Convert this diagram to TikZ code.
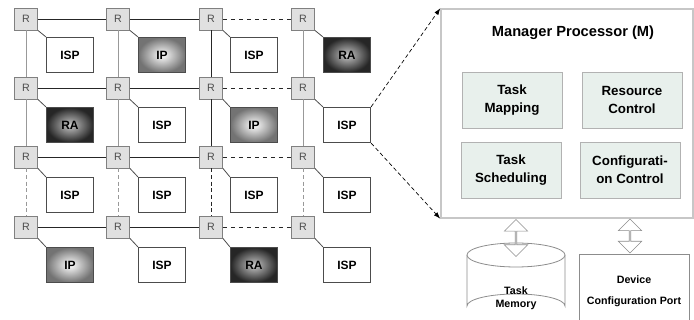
\documentclass[tikz,border=0pt]{standalone}
\usepackage{fontspec}
\setmainfont{Liberation Sans}
\usetikzlibrary{arrows.meta,shapes.arrows,positioning}
\definecolor{tilefill}{RGB}{232,240,236}

\tikzset{
  router/.style={draw=black!50,fill=black!12,line width=0.6pt,minimum width=17.25pt,minimum height=16.5pt,inner sep=0pt,text=black!70,font=\fontsize{8}{9}\selectfont},
  tile/.style={draw=black!70,line width=0.9pt,minimum width=35.25pt,minimum height=26.25pt,inner sep=0pt,font=\bfseries\fontsize{9}{10}\selectfont},
  isp/.style={tile,fill=white},
  ip/.style={tile,inner color=white,outer color=black!55},
  ra/.style={tile,inner color=black!22,outer color=black!85},
  link/.style={line width=0.6pt,black!85},
  vlink/.style={line width=0.6pt,black!40},
  tap/.style={line width=0.6pt,black!70},
  mgrbox/.style={draw=black!22,line width=1.1pt,fill=white,minimum width=189pt,minimum height=156.75pt,inner sep=0pt},
  taskbox/.style={draw=black!30,line width=0.6pt,fill=tilefill,minimum width=75pt,minimum height=42pt,align=center,font=\bfseries\fontsize{10}{13.5}\selectfont},
  probe/.style={densely dashed,line width=0.5pt,-{Latex[length=5pt,width=3.5pt]}},
  dataarrow/.style={double arrow,rotate=90,draw=black!45,fill=white,line width=0.5pt,minimum width=17.5pt,double arrow head extend=3.5pt,inner sep=0pt},
  store/.style={draw=black!45,line width=0.6pt,fill=white},
  cfgport/.style={draw=black!45,line width=0.6pt,fill=white,minimum width=82.5pt,minimum height=55.5pt,align=center,font=\bfseries\fontsize{8}{15.5}\selectfont}
}

\begin{document}
\begin{tikzpicture}[x=0.75pt,y=0.75pt,yscale=-1,xscale=1]
		\useasboundingbox (0,0) rectangle (694,320);
		
		% Routers
		\node[router] (r11) at (26,19) {R};
		\node[router] (r12) at (118,19) {R};
		\node[router] (r13) at (211,19) {R};
		\node[router] (r14) at (303,19) {R};
		\node[router] (r21) at (26,88) {R};
		\node[router] (r22) at (118,88) {R};
		\node[router] (r23) at (211,88) {R};
		\node[router] (r24) at (303,88) {R};
		\node[router] (r31) at (26,157) {R};
		\node[router] (r32) at (118,157) {R};
		\node[router] (r33) at (211,157) {R};
		\node[router] (r34) at (303,157) {R};
		\node[router] (r41) at (26,227) {R};
		\node[router] (r42) at (118,227) {R};
		\node[router] (r43) at (211,227) {R};
		\node[router] (r44) at (303,227) {R};
		
		% Tiles
		\node[isp] (b11) at (70,55) {ISP};
		\node[ip]  (b12) at (162,55) {IP};
		\node[isp] (b13) at (254,55) {ISP};
		\node[ra]  (b14) at (347,55) {RA};
		\node[ra]  (b21) at (70,125) {RA};
		\node[isp] (b22) at (162,125) {ISP};
		\node[ip]  (b23) at (254,125) {IP};
		\node[isp] (b24) at (347,125) {ISP};
		\node[isp] (b31) at (70,195) {ISP};
		\node[isp] (b32) at (162,195) {ISP};
		\node[isp] (b33) at (254,195) {ISP};
		\node[isp] (b34) at (347,195) {ISP};
		\node[ip]  (b41) at (70,265) {IP};
		\node[isp] (b42) at (162,265) {ISP};
		\node[ra]  (b43) at (254,265) {RA};
		\node[isp] (b44) at (347,265) {ISP};
		
		% Row links
		\draw[link] (r11) -- (r12) (r12) -- (r13);
		\draw[link,dashed] (r13) -- (r14);
		\draw[link] (r21) -- (r22) (r22) -- (r23);
		\draw[link,dashed] (r23) -- (r24);
		\draw[link] (r31) -- (r32) (r32) -- (r33);
		\draw[link,dashed] (r33) -- (r34);
		\draw[link] (r41) -- (r42) (r42) -- (r43);
		\draw[link,dashed] (r43) -- (r44);
		
		% Column links
		\draw[vlink] (r11) -- (r21) (r21) -- (r31);
		\draw[vlink,densely dashed] (r31) -- (r41);
		\draw[vlink] (r12) -- (r22) (r22) -- (r32);
		\draw[vlink,densely dashed] (r32) -- (r42);
		\draw[link] (r13) -- (r23) (r23) -- (r33);
		\draw[link,densely dashed] (r33) -- (r43);
		\draw[vlink] (r14) -- (r24) (r24) -- (r34);
		\draw[vlink,densely dashed] (r34) -- (r44);
		
		% Router to tile
		\draw[tap] (r11.south east) -- (b11.north west);
		\draw[tap] (r12.south east) -- (b12.north west);
		\draw[tap] (r13.south east) -- (b13.north west);
		\draw[tap] (r14.south east) -- (b14.north west);
		\draw[tap] (r21.south east) -- (b21.north west);
		\draw[tap] (r22.south east) -- (b22.north west);
		\draw[tap] (r23.south east) -- (b23.north west);
		\draw[tap] (r24.south east) -- (b24.north west);
		\draw[tap] (r31.south east) -- (b31.north west);
		\draw[tap] (r32.south east) -- (b32.north west);
		\draw[tap] (r33.south east) -- (b33.north west);
		\draw[tap] (r34.south east) -- (b34.north west);
		\draw[tap] (r41.south east) -- (b41.north west);
		\draw[tap] (r42.south east) -- (b42.north west);
		\draw[tap] (r43.south east) -- (b43.north west);
		\draw[tap] (r44.south east) -- (b44.north west);
		
		% Manager Processor
		\node[mgrbox] (mgr) at (567,113.5) {};
		\node[font=\bfseries\fontsize{11}{13}\selectfont] (mgrtitle) at (573,33) {Manager Processor (M)};
		\node[taskbox] (tmap) at (512,100) {Task\\Mapping};
		\node[taskbox] (rctl) at (632,100) {Resource\\Control};
		\node[taskbox] (tsch) at (511,170) {Task\\Scheduling};
		\node[taskbox] (cctl) at (630,170) {Configurati-\\on Control};
		
		% Zoom arrows
		\draw[probe] (b24.north east) -- (mgr.north west);
		\draw[probe] (b24.south east) -- (mgr.south west);
		
		%Shape: Cylinder
		\draw[store] (467,255) -- (467,306) arc[start angle=180,end angle=360,x radius=49,y radius=12] -- (565,255);
		\draw[store] (516,255) ellipse [x radius=49,y radius=12];
		\node[align=center,font=\bfseries\fontsize{8}{9.75}\selectfont] (mem) at (516,298) {Task\\Memory};
		
		\node[cfgport] (devport) at (634,291) {Device\\Configuration Port};
		
		% Double arrows
		\node[dataarrow,minimum height=27.75pt] (memarrow) at (516,238) {};
		\node[dataarrow,minimum height=25.5pt] (portarrow) at (630,236) {};
		
\end{tikzpicture}
\end{document}
